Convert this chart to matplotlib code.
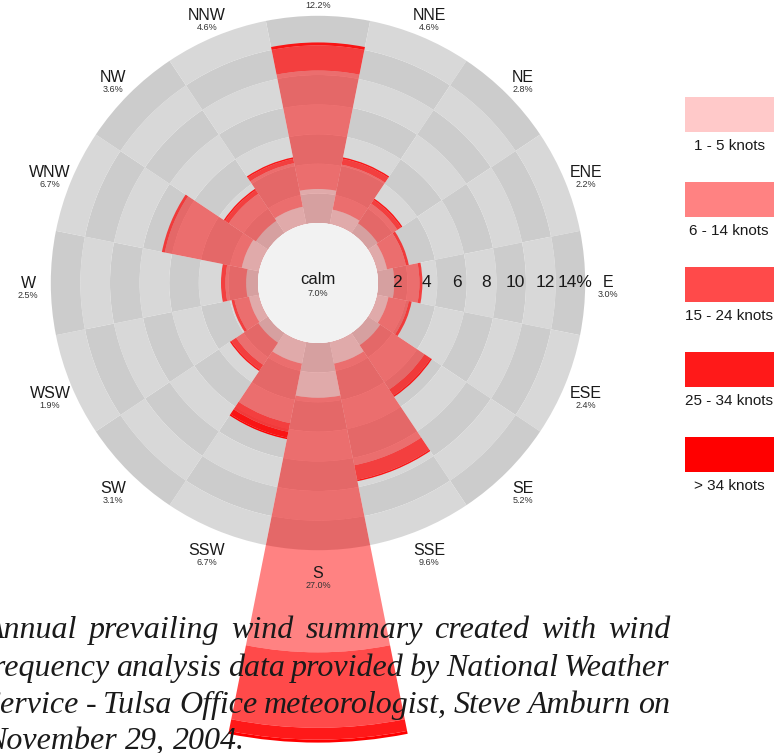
import numpy as np
import matplotlib
matplotlib.use('Agg')
import matplotlib.pyplot as plt
from matplotlib.patches import Circle, Rectangle

plt.rcParams['font.family'] = ['Liberation Sans', 'DejaVu Sans']

# ---------------- data ----------------
directions = ['N', 'NNE', 'NE', 'ENE', 'E', 'ESE', 'SE', 'SSE',
              'S', 'SSW', 'SW', 'WSW', 'W', 'WNW', 'NW', 'NNW']
dir_totals = ['12.2%', '4.6%', '2.8%', '2.2%', '3.0%', '2.4%', '5.2%', '9.6%',
              '27.0%', '6.7%', '3.1%', '1.9%', '2.5%', '6.7%', '3.6%', '4.6%']
speed_classes = ['1 - 5 knots', '6 - 14 knots', '15 - 24 knots',
                 '25 - 34 knots', '> 34 knots']
# percent of time per speed class, one value per direction (N ... NNW)
knots_1_5   = [2.3, 1.0, 0.8, 0.7, 1.1, 0.8, 1.0, 1.5, 3.7, 1.5, 0.8, 0.7, 0.8, 1.2, 1.0, 1.2]
knots_6_14  = [8.0, 3.1, 1.6, 1.3, 1.7, 1.4, 3.6, 7.0, 17.2, 4.1, 1.8, 1.0, 1.4, 5.3, 2.2, 3.0]
knots_15_24 = [1.7, 0.4, 0.3, 0.2, 0.2, 0.2, 0.5, 1.0, 5.1, 0.6, 0.4, 0.2, 0.3, 0.2, 0.3, 0.3]
knots_25_34 = [0.2, 0.1, 0.1, 0.0, 0.0, 0.0, 0.1, 0.1, 0.8, 0.4, 0.1, 0.0, 0.0, 0.0, 0.1, 0.1]
knots_gt_34 = [0.0, 0.0, 0.0, 0.0, 0.0, 0.0, 0.0, 0.0, 0.2, 0.1, 0.0, 0.0, 0.0, 0.0, 0.0, 0.0]
calm_label = 'calm'
calm_pct = '7.0%'
ring_values = [2, 4, 6, 8, 10, 12, 14]
ring_labels = ['2', '4', '6', '8', '10', '12', '14%']
caption_lines = [
    'Annual prevailing wind summary created with wind',
    'frequency analysis data provided by National Weather',
    'Service - Tulsa Office meteorologist, Steve Amburn on',
    'November 29, 2004.',
]

# ---------------- style / layout ----------------
class_alpha = [0.21, 0.49, 0.71, 0.9, 1.0]
W, H = 774, 753
cx, cy = 318, 283          # rose centre (px, from top)
px_per_pct = 14.8
calm_r = 60
rmax = 28
R = calm_r + px_per_pct * rmax

fig = plt.figure(figsize=(W / 100, H / 100), dpi=100)
fig.patch.set_facecolor('white')

ax = fig.add_axes([(cx - R) / W, (H - cy - R) / H, 2 * R / W, 2 * R / H],
                  projection='polar', zorder=1)
ax.set_theta_zero_location('N')
ax.set_theta_direction(-1)
ax.set_ylim(0, rmax)
ax.set_rorigin(-calm_r / px_per_pct)
ax.set_facecolor('none')
ax.patch.set_edgecolor('none')
ax.grid(False)
ax.set_xticks([])
ax.set_yticks([])
for s in ax.spines.values():
    s.set_visible(False)
    s.set_color('none')
    s.set_linewidth(0)

theta = np.deg2rad(np.arange(len(directions)) * 22.5)
width = 2 * np.pi / len(directions)

# grey background cells
shades = ['#cccccc', '#d8d8d8']
for j, rv in enumerate(ring_values):
    cols = [shades[(i + j) % 2] for i in range(len(directions))]
    ax.bar(theta, 2, width=width, bottom=rv - 2, color=cols, linewidth=0, zorder=1)

# stacked wind bars
series = [knots_1_5, knots_6_14, knots_15_24, knots_25_34, knots_gt_34]
bottom = np.zeros(len(directions))
for vals, a in zip(series, class_alpha):
    vals = np.asarray(vals, dtype=float)
    ax.bar(theta, vals, width=width, bottom=bottom, color='red', alpha=a,
           linewidth=0, zorder=2)
    bottom += vals

# calm disc
ax.add_patch(Circle((0.5, 0.5), calm_r / (2 * R), transform=ax.transAxes,
                    facecolor='#f2f2f2', edgecolor='none', linewidth=0,
                    clip_on=False, zorder=3))
ax.annotate(calm_label, xy=(0.5, 0.5), xycoords='axes fraction', xytext=(0, 3),
            textcoords='offset pixels', ha='center', va='center',
            fontsize=12, color='#1a1a1a', zorder=4)
ax.annotate(calm_pct, xy=(0.5, 0.5), xycoords='axes fraction', xytext=(0, -11),
            textcoords='offset pixels', ha='center', va='center',
            fontsize=6.5, color='#333333', zorder=4)

# ring labels along east axis
for rv, lab in zip(ring_values, ring_labels):
    ax.text(np.pi / 2, rv - 0.7, lab, ha='center', va='center',
            fontsize=12.5, color='#1a1a1a', zorder=4)

# direction labels
label_r = (290 - calm_r) / px_per_pct
for th, name, pct in zip(theta, directions, dir_totals):
    ax.annotate(name, xy=(th, label_r), ha='center', va='center',
                fontsize=11.5, color='#1a1a1a', annotation_clip=False, zorder=4)
    ax.annotate(pct, xy=(th, label_r), xytext=(0, -12), textcoords='offset pixels',
                ha='center', va='center', fontsize=6.5, color='#333333',
                annotation_clip=False, zorder=4)

# overlay axes in pixel coordinates for legend and caption
ov = fig.add_axes([0, 0, 1, 1], zorder=5)
ov.set_xlim(0, W)
ov.set_ylim(H, 0)
ov.axis('off')
ov.patch.set_alpha(0)

for k, (lab, a) in enumerate(zip(speed_classes, class_alpha)):
    y0 = 97 + 85 * k
    ov.add_patch(Rectangle((685, y0), 100, 35, facecolor='red', alpha=a,
                           linewidth=0, clip_on=False))
    ov.text(729, y0 + 49, lab, ha='center', va='center', fontsize=11,
            color='#1a1a1a')

# justified italic caption
fig.canvas.draw()
renderer = fig.canvas.get_renderer()
x_left, x_right = -15, 670
baselines = [638, 676, 713, 749]
cap_fs = 23
cap_kw = dict(fontsize=cap_fs, family='Liberation Serif', style='italic')
for li, (line, yb) in enumerate(zip(caption_lines, baselines)):
    words = line.split(' ')
    texts = [ov.text(0, yb, w, ha='left', va='baseline', color='#1a1a1a', **cap_kw)
             for w in words]
    widths = [t.get_window_extent(renderer).width for t in texts]
    if li < len(caption_lines) - 1 and len(words) > 1:
        gap = (x_right - x_left - sum(widths)) / (len(words) - 1)
    else:
        sp = ov.text(0, 0, 'a a', **cap_kw)
        sp2 = ov.text(0, 0, 'aa', **cap_kw)
        gap = sp.get_window_extent(renderer).width - sp2.get_window_extent(renderer).width
        sp.remove()
        sp2.remove()
    x = x_left
    for t, wdt in zip(texts, widths):
        t.set_x(x)
        x += wdt + gap

fig.savefig('out.png', dpi=100, facecolor='white')
